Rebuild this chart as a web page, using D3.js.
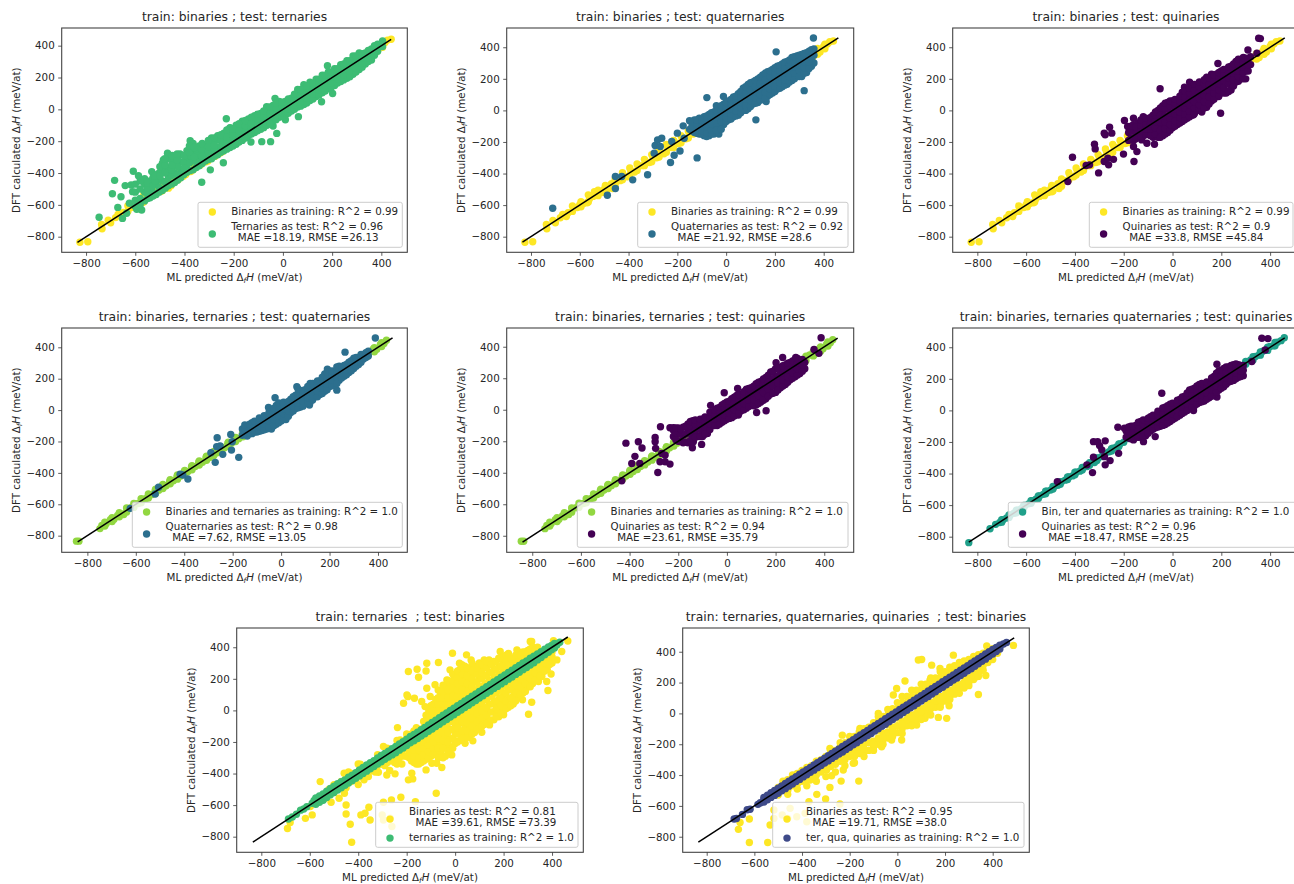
<!DOCTYPE html>
<html><head><meta charset="utf-8">
<style>html,body{margin:0;padding:0;background:#fff;overflow:hidden}svg{display:block}text{font-family:"DejaVu Sans",sans-serif;fill:#262626;white-space:pre}</style>
<script src="https://cdn.jsdelivr.net/npm/d3@7/dist/d3.min.js"></script>
</head><body><svg id="c" width="1294" height="884"></svg>
<script>
const tickValues=[-800,-600,-400,-200,0,200,400];
const colors={yellow:"#fde725",green:"#3dbc74",teal:"#2c6f8e",purple:"#440154",lime:"#92d741",sea:"#20a08a",indigo:"#3e4a89"};

const binariesTrain=[[-825,-835],[-793,-832],[-735,-750],[-737,-723],[-710,-697],[-700,-712],[-680,-680],[-670,-660],[-655,-672],[-648,-648],[-622,-615],[-610,-615],[-600,-598],[-585,-590],[-570,-585],[-560,-560],[-545,-545],[-540,-515],[-510,-520],[-500,-500],[-490,-510],[-470,-465],[-465,-495],[-450,-450],[-435,-445],[-420,-415],[-405,-420],[-390,-385],[-375,-390],[-360,-355],[-345,-350],[-330,-325],[-315,-330],[-300,-295],[-285,-300],[-270,-265],[-255,-275],[-240,-230],[-225,-235],[-210,-205],[-195,-210],[-180,-175],[-165,-180],[-150,-145],[-135,-150],[-120,-115],[-105,-120],[-90,-85],[-75,-85],[-60,-55],[-45,-50],[-30,-25],[-15,-20],[0,5],[15,5],[30,35],[45,40],[60,65],[80,72],[100,105],[120,112],[140,146],[160,152],[180,186],[200,192],[220,226],[240,232],[260,266],[280,272],[300,306],[320,310],[340,345],[355,335],[370,375],[385,370],[400,405],[415,420],[425,435],[440,440]];
const binariesTrainEdge=[[-630,-640,-605],[-595,-610,-578],[-565,-580,-535],[-525,-540,-505],[-495,-515,-475],[-455,-480,-435],[-425,-440,-395],[-395,-410,-365],[-365,-380,-340],[-335,-350,-310],[-305,-325,-280],[-275,-295,-245],[-245,-265,-215],[-215,-235,-190],[-185,-205,-160],[-155,-175,-130],[-125,-145,-100],[-95,-115,-70],[280,262,295],[310,295,325],[345,325,360],[375,355,392],[405,390,420]];

const binTerTrain=[[-845,-835],[-835,-835],[-748,-755],[-740,-735],[-722,-722],[-705,-698],[-690,-695],[-675,-672],[-660,-662],[-650,-665],[-635,-628],[-620,-622],[-605,-598],[-590,-595],[-575,-570],[-560,-565],[-548,-542],[-533,-538],[-520,-512],[-505,-510],[-490,-480],[-475,-482],[-460,-455],[-445,-450],[-430,-425],[-415,-420],[-400,-392],[-385,-392],[-370,-362],[-355,-360],[-340,-332],[-325,-332],[-310,-302],[-295,-302],[-280,-272],[-265,-272],[-250,-242],[-235,-242],[-220,-212],[-205,-212],[-190,-182],[-175,-182],[-160,-152],[-145,-152],[-130,-122],[-115,-122],[-100,-92],[-80,-88],[-60,-52],[-40,-48],[-20,-12],[0,-8],[20,28],[40,32],[60,68],[80,72],[100,108],[120,112],[140,148],[160,152],[180,188],[200,192],[220,228],[240,232],[260,268],[280,272],[300,308],[320,312],[340,348],[360,352],[380,388],[395,388],[410,418],[425,425],[435,445]];
const binTerTrainEdge=[[-728,-738,-714],[-698,-710,-686],[-668,-680,-654],[-638,-650,-624],[-608,-620,-594],[-578,-590,-564],[-548,-560,-534],[-518,-530,-504],[-488,-500,-474],[-458,-470,-444],[-428,-440,-414],[-398,-410,-384],[-368,-380,-354],[-338,-350,-324],[-308,-320,-294],[-278,-290,-264],[-248,-260,-234],[-218,-230,-204],[-188,-200,-174],[-158,-170,-144],[265,252,280],[295,282,310],[325,312,340],[355,342,368],[385,372,398],[415,405,430]];

const allButQuinTrain=[[-835,-838],[-748,-750],[-725,-722],[-708,-710],[-695,-692],[-680,-682],[-665,-662],[-650,-652],[-635,-632],[-620,-622],[-605,-602],[-590,-592],[-575,-572],[-560,-562],[-545,-542],[-530,-532],[-515,-512],[-500,-505],[-485,-482],[-470,-475],[-455,-452],[-440,-442],[-425,-422],[-410,-415],[-395,-392],[-380,-385],[-365,-362],[-350,-355],[-335,-332],[-320,-330],[-305,-302],[-290,-292],[-275,-272],[-260,-262],[-245,-240],[-230,-232],[-215,-212],[-200,-202],[-180,-178],[-160,-160],[-140,-138],[-120,-120],[-100,-98],[-80,-80],[-60,-58],[-40,-40],[-20,-18],[0,0],[20,22],[40,40],[60,62],[80,80],[100,102],[120,120],[140,142],[160,160],[180,182],[200,200],[220,222],[240,240],[260,262],[280,280],[300,302],[320,320],[340,342],[355,352],[370,375],[385,382],[400,405],[415,410],[430,432],[445,442],[458,460]];
const allButQuinEdge=[[-700,-708,-692],[-670,-678,-662],[-640,-648,-632],[-610,-618,-602],[-580,-588,-572],[-550,-558,-542],[-520,-528,-512],[-490,-498,-482],[-460,-468,-452],[-430,-438,-422],[-400,-408,-392],[-370,-378,-362],[-340,-348,-332],[-310,-318,-302],[-280,-288,-272],[-250,-258,-242],[-220,-228,-212],[300,292,310],[330,320,340],[360,350,370],[390,380,400],[420,410,430]];

const ternariesTrain=[[-688,-688],[-672,-675],[-655,-658],[-638,-632],[-625,-625],[-612,-610],[-590,-588],[-582,-570],[-570,-572],[-555,-550],[-540,-545],[-525,-520],[-510,-515],[-495,-490],[-480,-490],[-465,-462],[-450,-455],[-435,-430],[-420,-428],[-405,-405],[-390,-388],[-375,-380],[-360,-360],[-345,-340],[-330,-335],[-315,-312],[-300,-308],[-285,-282],[-270,-275],[-255,-252],[-240,-245],[-225,-222],[-210,-215],[-195,-192],[-180,-185],[-165,-162],[-150,-155],[-135,-132],[-120,-125],[-105,-102],[-90,-95],[-75,-72],[-60,-65],[-45,-42],[-30,-35],[-15,-12],[0,-5],[15,18],[30,25],[45,48],[60,55],[75,78],[90,85],[105,108],[120,115],[135,138],[150,145],[165,168],[180,175],[195,198],[210,205],[225,228],[240,235],[255,258],[270,265],[285,288],[300,295],[315,318],[330,325],[345,348],[360,355],[375,378],[390,385],[405,408],[420,415],[432,432]];
const ternariesTrainEdge=[[-575,-595,-555],[-545,-570,-530],[-515,-535,-495],[-485,-505,-465],[-455,-475,-440],[-425,-445,-410],[-395,-415,-378],[-365,-385,-345],[-335,-355,-318],[-305,-325,-285],[-275,-295,-258],[-245,-268,-228],[-215,-238,-198],[-185,-205,-165],[-155,-178,-138],[-125,-148,-108],[-95,-118,-76],[-65,-88,-46],[-35,-58,-16],[-5,-28,14],[25,2,44],[55,32,74],[85,62,104],[115,92,134],[145,122,164],[175,152,194],[205,182,224],[235,212,254],[265,242,284],[295,272,314],[325,302,344],[355,335,372],[385,368,402],[410,396,424],
[-560,-582,-542],[-530,-552,-512],[-500,-520,-480],[-470,-490,-452],[-440,-460,-424],[-410,-430,-394],[-380,-400,-362],[-350,-370,-332],[-320,-340,-302],[-290,-310,-272],[-260,-282,-242],[-230,-252,-212],[-200,-222,-182],[-170,-192,-152],[-140,-162,-122],[-110,-132,-92],[-80,-102,-62],[-50,-72,-30],[-20,-42,0],[10,-12,30],[40,18,60],[70,48,90],[100,78,120],[130,108,150],[160,138,180],[190,168,210],[220,198,240],[250,228,270],[280,258,300],[310,288,330],[340,320,358],[370,352,388],[398,384,412]];

const terQuaQuinTrain=[[-685,-685],[-675,-682],[-650,-655],[-630,-625],[-618,-622],[-585,-590],[-575,-580],[-560,-558],[-545,-548],[-530,-528],[-515,-518],[-500,-498],[-485,-488],[-470,-468],[-455,-458],[-440,-438],[-425,-428],[-410,-408],[-395,-398],[-380,-378],[-365,-368],[-350,-348],[-335,-338],[-320,-318],[-305,-308],[-290,-288],[-275,-278],[-260,-258],[-245,-248],[-230,-228],[-215,-218],[-200,-198],[-185,-188],[-170,-168],[-155,-158],[-140,-138],[-125,-128],[-110,-108],[-95,-98],[-80,-78],[-65,-68],[-50,-48],[-35,-38],[-20,-18],[-5,-8],[10,12],[25,22],[40,42],[55,52],[70,72],[85,82],[100,102],[115,112],[130,132],[145,142],[160,162],[175,172],[190,192],[205,202],[220,222],[235,232],[250,252],[265,262],[280,282],[295,292],[310,312],[325,322],[340,342],[355,352],[370,372],[385,382],[400,402],[415,412],[430,432],[445,450],[458,460]];
const terQuaQuinTrainEdge=[[-560,-575,-545],[-530,-545,-515],[-500,-518,-485],[-470,-488,-455],[-440,-458,-425],[-410,-428,-395],[-380,-398,-365],[-350,-368,-335],[-320,-338,-305],[-290,-308,-275],[-260,-278,-245],[-230,-250,-215],[-200,-220,-185],[-170,-190,-155],[-140,-160,-125],[-110,-130,-95],[-80,-100,-65],[-50,-70,-35],[-20,-40,-5],[10,-10,25],[40,20,55],[70,50,85],[100,80,115],[130,110,145],[160,140,175],[190,170,205],[220,200,235],[250,230,265],[280,260,295],[310,290,325],[340,322,355],[370,352,385],[400,385,415],[430,418,442],
[-545,-560,-530],[-515,-532,-500],[-485,-502,-470],[-455,-472,-440],[-425,-442,-410],[-395,-412,-380],[-365,-382,-350],[-335,-352,-320],[-305,-322,-290],[-275,-292,-260],[-245,-264,-230],[-215,-234,-200],[-185,-204,-170],[-155,-174,-140],[-125,-144,-110],[-95,-114,-80],[-65,-84,-50],[-35,-54,-20],[-5,-24,10],[25,6,40],[55,36,70],[85,66,100],[115,96,130],[145,126,160],[175,156,190],[205,186,220],[235,216,250],[265,246,280],[295,276,310],[325,306,340],[355,338,370],[385,370,400],[415,402,428]];

const ternTestOut=[[-747,-678],[-693,-530],[-684,-446],[-641,-479],[-608,-389],[-587,-417],[-617,-475],[-611,-517],[-658,-549],[-671,-616],[-652,-685],[-635,-653],[-624,-590],[-594,-628],[-574,-632],[-533,-391],[-513,-444],[-469,-276],[-486,-318],[-418,-280],[-459,-402],[-377,-197],[-330,-458],[-350,-255],[-242,-335],[-230,-59],[-215,-119],[-86,-203],[-50,-203],[-32,69],[-66,17],[-25,-151],[63,-46],[157,48],[181,274],[202,100],[-295,-380],[-130,-205]];
const ternTestCols=[[-562,-575,-520,-470,-435],[-540,-555,-500,-450],[-515,-535,-470,-410],[-490,-510,-450,-380,-340],[-465,-480,-430,-370,-310],[-440,-460,-400,-340,-300],[-415,-430,-380,-330],[-390,-395,-350,-310,-260],[-365,-380,-320,-270,-215],[-340,-355,-310,-260,-230],[-315,-325,-280,-230],[-290,-310,-260,-210,-180],[-265,-285,-240,-190,-165],[-240,-260,-215,-170,-150],[-215,-240,-195,-150,-115],[-190,-220,-175,-130,-100],[-165,-195,-150,-110,-75],[-140,-165,-125,-85,-60],[-115,-145,-105,-65,-40],[-90,-125,-85,-45,-25],[-65,-100,-60,-20,10],[-40,-105,-70,-35,0,25],[-15,-50,-15,25,50],[10,-65,-35,10,50],[35,-10,30,70],[60,15,55,95,125],[85,30,75,120,155],[110,55,100,145,170],[135,80,125,170,190],[160,105,145,190,215],[185,130,170,215,235],[210,150,195,240,255],[235,175,220,260,280],[260,195,240,285,305],[285,220,265,310,335],[310,250,290,335,355],[335,285,320,355],[360,310,345,380],[385,365,395,410],[405,395,430],
[-550,-560,-530,-495,-465],[-528,-545,-520,-480,-430],[-503,-520,-490,-430,-400],[-478,-495,-460,-400,-350],[-452,-470,-415,-380,-320],[-428,-445,-410,-360,-310],[-402,-410,-370,-335,-290],[-378,-385,-335,-290,-240],[-352,-365,-330,-285,-250],[-328,-340,-295,-250,-215],[-303,-315,-270,-235,-195],[-278,-295,-250,-225,-180],[-252,-270,-230,-190,-160],[-228,-250,-205,-175,-130],[-203,-230,-190,-160,-125],[-178,-205,-165,-135,-90],[-152,-180,-140,-105,-70],[-128,-155,-115,-90,-50],[-103,-135,-95,-60,-30],[-78,-115,-75,-40,-10],[-52,-90,-50,-25,15],[-28,-65,-35,5,40],[-3,-45,-20,20,45],[22,-25,5,35,65],[47,0,25,60,95],[72,20,45,85,125],[97,40,70,110,145],[122,65,95,130,165],[147,90,120,155,190],[172,115,150,185,215],[197,140,165,205,235],[222,165,190,225,255],[247,185,215,250,285],[272,205,240,275,305],[297,235,260,300,335],[322,265,290,325,350],[347,300,325,355,370],[372,340,365,385,400],
[-600,-610,-570,-520,-470],[-580,-600,-560,-500,-450],[-520,-450,-420],[-500,-420,-360],[-480,-350,-310],[-450,-350,-290],[-430,-320,-280],[-400,-370,-290],[-380,-270,-230],[-360,-300,-240]];

const quatTestOut=[[-711,-620],[-487,-538],[-454,-495],[-454,-419],[-428,-419],[-383,-440],[-322,-408],[-295,-271],[-291,-222],[-281,-187],[-264,-176],[-270,-229],[-228,-330],[-213,-284],[-189,-257],[-119,-301],[-223,-197],[-200,-144],[-176,-98],[-172,-176],[-79,81],[-11,88],[122,-60],[164,56],[205,371],[320,125],[358,459]];
const quatTestCols=[[-150,-120,-65],[-130,-140,-90,-60],[-110,-150,-110,-70,-50],[-90,-160,-125,-85,-40],[-70,-160,-110,-60,-25],[-50,-150,-100,-50,-10],[-30,-150,-100,-60,-20,20],[-10,-90,-40,10,40],[10,-60,-20,30,60],[30,-40,10,55,85],[50,-30,30,75,105],[70,0,50,100,140],[90,10,70,125,165],[110,40,90,140,180],[130,50,110,160,200],[150,80,130,180,225],[170,90,150,205,245],[190,110,165,220,260],[210,135,185,240,280],[230,150,205,255,295],[250,165,225,275,310],[270,190,240,295,335],[290,215,265,310,345],[310,215,280,325,355],[330,240,295,340,365],[350,280,320,360,385],[360,300,350,390],
[-140,-130,-100,-75],[-120,-145,-125,-90,-60],[-100,-150,-130,-100,-60],[-80,-165,-140,-105,-65,-35],[-60,-150,-125,-85,-45,-15],[-40,-125,-80,-40,0,30],[-20,-120,-70,-30,0,30],[0,-70,-45,-15,15,50],[20,-55,-20,10,45,70],[40,-35,-5,30,65,90],[60,-15,15,50,85,120],[80,0,30,70,110,150],[100,25,60,95,130,175],[120,45,80,115,150,190],[140,65,100,135,170,210],[160,80,115,155,195,235],[180,100,135,175,215,250],[200,120,155,195,235,270],[220,140,175,215,250,285],[240,160,195,235,270,305],[260,180,215,255,290,320],[280,200,235,275,310,340],[300,215,255,290,325,350],[320,235,270,310,345,360],[340,265,305,340,375]];

const quinTestOut=[[-410,-297],[-429,-451],[-303,-396],[-340,-345],[-354,-349],[-320,-214],[-317,-244],[-280,-144],[-258,-107],[-276,-155],[-249,-144],[-280,-324],[-262,-345],[-265,-303],[-242,-310],[-201,-277],[-158,-324],[-146,-261],[-160,-229],[-74,-214],[-105,-208],[-126,-187],[-197,-64],[-160,-50],[-184,-102],[-51,137],[49,147],[70,178],[86,-28],[197,-18],[189,88],[186,297],[309,383],[353,457],[360,455],[346,362]];
const quinTestCols=[[-180,-190,-140],[-160,-190,-130,-90],[-140,-170,-120,-80],[-120,-160,-110,-70,-40],[-100,-150,-100,-60],[-80,-170,-130,-80,-30],[-60,-170,-150,-100,-50,0],[-40,-160,-110,-60,-10,30],[-20,-140,-90,-40,10,50],[0,-110,-60,-20,30,60],[20,-90,-40,10,60],[40,-70,-20,30,80,115],[60,-50,0,50,100,130],[80,-30,20,70,120],[100,0,50,100,150],[120,-10,40,90,140,165],[140,20,70,120,170,210],[160,60,110,150,190,230],[180,90,140,185,230],[200,120,160,205,250],[220,110,170,220,260],[240,130,190,240,280],[260,180,220,270,310],[280,200,240,285,320],[300,200,250,300,330],[320,290,340],
[-170,-175,-130,-100],[-150,-180,-145,-105],[-130,-165,-130,-95,-60],[-110,-155,-120,-85,-50],[-90,-160,-120,-85,-45],[-70,-150,-110,-70,-30,-10],[-50,-170,-125,-75,-30,15],[-30,-150,-115,-75,-35,15,45],[-10,-125,-90,-50,-15,30,60],[10,-100,-65,-25,10,45,70],[30,-80,-45,-10,25,60,90],[50,-60,-25,15,50,85,125],[70,-40,-5,35,70,110,140],[90,-20,15,55,90,130,165],[110,5,35,75,115,150,180],[130,15,55,95,130,170,195],[150,40,85,130,165,205],[170,70,110,150,190,225],[190,95,130,170,210,240],[210,110,145,190,225,260],[230,120,165,205,240,275],[250,155,195,235,265,295],[270,185,215,250,290,325],[290,200,240,275,305,335],[310,250,290,325]];

const quatTest2Out=[[-623,-626],[-520,-535],[-506,-492],[-417,-408],[-385,-439],[-406,-414],[-290,-272],[-272,-333],[-264,-176],[-266,-233],[-252,-229],[-241,-282],[-208,-155],[-205,-255],[-202,-202],[-175,-301],[230,127],[264,369],[389,459],[-25,79],[-52,17],[65,149],[117,32],[191,261]];
const quatTest2Cols=[[-160,-160,-120],[-140,-165,-130,-100],[-120,-150,-115,-80],[-100,-140,-100,-75],[-80,-130,-85,-60],[-60,-120,-75,-40],[-40,-120,-60,-25],[-20,-90,-40,-5,30],[0,-70,-30,10,30],[20,-60,-10,35],[40,-15,30,70],[60,10,50,95],[80,20,65,105],[100,40,80,130],[120,50,100,150,170],[140,85,125,170],[160,100,140,185],[180,120,155,200,230],[200,150,185,225],[220,165,200,240],[240,190,225,265,280],[260,215,245,285],[280,240,270,305],[300,265,300,330],[320,290,320],[340,325,345],[360,345,375],
[-150,-150,-120,-95],[-130,-150,-125,-90],[-110,-140,-105,-70],[-90,-135,-105,-75,-50],[-70,-125,-90,-60,-35],[-50,-110,-70,-40,-15],[-30,-100,-60,-25,10],[-10,-80,-40,-10,25,45],[10,-60,-25,5,35,50],[30,-40,-5,25,55],[50,-5,25,60,85],[70,15,45,80,105,135],[90,25,60,95,125],[110,45,80,115,150],[130,65,100,135,170],[150,85,120,155,185],[170,105,140,175,210],[190,130,165,200,240],[210,155,190,225,250],[230,170,210,245,275],[250,205,235,270],[270,225,255,290],[290,250,280,315],[310,280,310,335],[330,305,335,355],[350,335,365]];

const quinTest2Out=[[-415,-212],[-364,-203],[-349,-243],[-378,-296],[-391,-341],[-358,-341],[-432,-451],[-284,-398],[-295,-176],[-295,-203],[-293,-245],[-273,-108],[-234,-114],[-220,-114],[-275,-330],[-254,-330],[-234,-345],[-254,-288],[-268,-277],[-142,-241],[-104,-220],[-138,-203],[-11,108],[-67,28],[44,135],[122,-17],[161,-6],[47,-34],[202,298],[229,332],[283,332],[358,383],[387,457],[378,358],[296,252]];
const quinTest2Cols=[[-220,-170,-130],[-200,-200,-150,-115],[-180,-210,-160,-110],[-160,-210,-130,-90],[-140,-180,-140,-100,-70],[-120,-170,-120,-80],[-100,-170,-130,-90,-60],[-80,-150,-110,-60],[-60,-100,-70,-30],[-40,-100,-60,-20,10],[-20,-80,-40,0,30],[0,-60,-20,20,50],[20,-50,-10,30,70],[40,-30,10,50,90],[60,-5,30,75,100],[80,10,50,90,130],[100,30,70,110,140],[120,30,80,120,165],[140,50,100,145,180],[160,70,120,165,205],[180,100,145,190,240],[200,110,160,210,260],[220,140,180,225,270],[240,160,200,245,285],[260,190,220,270,300],[280,210,250,290,320],[300,230,270,310],[320,260,300],
[-210,-190,-145,-115],[-190,-200,-155,-120],[-170,-205,-155,-105],[-150,-195,-150,-100,-75],[-130,-175,-130,-90,-65],[-110,-170,-125,-90,-60],[-90,-155,-110,-75,-45],[-70,-125,-90,-50,-15],[-50,-100,-60,-30,0],[-30,-90,-50,-15,15],[-10,-70,-30,10,40],[10,-55,-20,20,55],[30,-40,0,40,80],[50,-20,20,60,95],[70,0,40,80,115],[90,20,60,100,135],[110,25,65,105,150],[130,40,90,130,175],[150,60,110,155,195],[170,85,130,175,220],[190,105,150,195,245],[210,125,170,215,265],[230,150,190,235,280],[250,175,210,255,295],[270,200,235,280,310],[290,220,260,300,325],[310,245,285,320]];

const quinTest3Out=[[-472,-451],[-328,-394],[-324,-297],[-351,-345],[-276,-345],[-256,-318],[-279,-293],[-221,-272],[-324,-198],[-299,-223],[-307,-198],[-276,-193],[-290,-250],[-224,-107],[-197,-113],[-71,-166],[-160,-187],[-119,-198],[-44,109],[86,-1],[182,85],[182,292],[366,457],[391,455],[380,383],[325,310]];
const quinTest3Cols=[[-190,-170,-130],[-170,-180,-140,-100],[-150,-170,-130,-95],[-130,-170,-130,-90,-70],[-110,-160,-120,-80],[-90,-130,-90,-60,-40],[-70,-110,-80,-40],[-50,-100,-60,-20],[-30,-90,-50,-10,20],[-10,-70,-30,10,40],[10,-50,-10,30],[30,-30,10,50,70],[50,-10,30,70,90],[70,10,50,90,130],[90,30,70,110,140],[110,50,90,130,165],[130,60,100,150],[150,80,120,165],[170,100,140,185,215],[190,130,165,210,250],[210,150,190,230,265],[230,180,215,255,275],[250,190,230,270,290],[270,210,240,280,290],[290,220,255,285],
[-180,-175,-130,-105],[-160,-175,-135,-100],[-140,-170,-130,-95,-75],[-120,-165,-125,-85,-60],[-100,-145,-105,-70,-50],[-80,-120,-85,-50,-30],[-60,-105,-70,-30,-5],[-40,-95,-55,-15,15],[-20,-80,-40,0,30],[0,-60,-20,20,45],[20,-40,0,40,65],[40,-20,20,60,85],[60,0,40,80,110],[80,20,60,100,135],[100,40,80,120,155],[120,55,95,135,170],[140,70,110,150,180],[160,90,130,175,205],[180,115,155,200,235],[200,140,180,220,255],[220,165,205,245,275],[240,185,225,260,285],[260,200,235,275,295],[280,215,250,285]];

const binTest2Out=[[-692,-748],[-681,-711],[-618,-684],[-590,-662],[-598,-609],[-557,-451],[-512,-582],[-479,-557],[-457,-525],[-450,-599],[-450,-656],[-433,-721],[-427,-835],[-389,-662],[-372,-652],[-356,-614],[-351,-694],[-301,-662],[-296,-694],[-261,-736],[-268,-683],[-263,-567],[-296,-582],[-224,-550],[-164,-578],[-78,-525],[-458,-398],[-392,-341],[-376,-440],[-358,-419],[-317,-392],[-282,-409],[-248,-402],[-193,-440],[-175,-434],[-179,-398],[-120,-377],[-76,-335],[-55,-362],[-96,-335],[-131,-314],[-158,-292],[-296,-229],[-238,-109],[-227,-187],[-213,45],[-199,98],[-195,87],[-168,77],[-138,56],[-151,210],[-193,246],[-157,261],[-117,299],[-120,250],[-69,303],[-11,362],[18,299],[28,289],[47,352],[66,320],[-117,140],[-83,162],[-124,24],[-103,88],[-21,257],[-34,193],[303,-24],[278,67],[316,52],[296,147],[383,126],[344,183],[378,183],[358,214],[396,231],[392,299],[420,320],[440,373],[465,440],[310,436],[316,436],[406,442],[200,-28],[179,-28],[142,-92],[110,-138],[73,-193],[41,-208],[7,-197],[-14,-282],[-28,-261],[186,373],[255,383],[282,352],[-540,-560],[-500,-520],[-450,-490],[-430,-450],[-400,-470],[-380,-420],[-360,-400],[-340,-380],[-320,-350],[-300,-340],[-280,-330],[-260,-300],[-240,-280],[-220,-260],[-240,-340],[-270,-380],[-220,-340],[-500,-470],[-440,-390],[-400,-340],[-320,-280],[-280,-240],[-240,-190],[-200,-150],[-160,-110]];
const binTest2Cols=[[-200,-290,-240,-180],[-180,-320,-260,-200,-150],[-160,-340,-280,-220,-170],[-140,-330,-270,-210,-140],[-120,-310,-250,-190,-130,-60,-30],[-100,-290,-230,-170,-110,-60,-10,30],[-80,-270,-210,-150,-90,-30,20,70],[-60,-270,-210,-150,-100,-40,10,60,110],[-40,-290,-230,-170,-110,-50,10,60,110,150],[-20,-230,-180,-120,-60,20,70,120,170],[0,-210,-150,-90,-40,50,100,150,190,230],[20,-190,-140,-80,-30,70,120,170,220,260],[40,-170,-110,-50,0,90,140,190,240,280],[60,-170,-110,-60,-10,110,160,210,260],[80,-140,-80,-30,20,130,180,230,280],[100,-110,-60,-10,40,150,200,250,300],[120,-90,-40,10,70,160,220,270,320],[140,-60,-10,40,90,190,240,290,320],[160,-60,-10,50,110,210,260,310],[180,-40,20,70,130,230,280,330],[200,0,50,100,160,250,300,340],[220,20,70,130,180,270,320,360],[240,40,90,150,200,290,330],[260,90,130,180,220,310,350,370],[280,110,160,210,250,330,370],[300,150,190,240,280,350,380],[320,170,220,270,300,370,400],[340,210,250,290,320,400],[360,240,280,320,350],[380,260,310,350],[400,300,340,370],
[-190,-300,-270,-230,-190,-160],[-170,-330,-290,-250,-210,-170,-130],[-150,-340,-300,-250,-200,-160,-120],[-130,-320,-280,-240,-200,-160,-110,-70],[-110,-300,-260,-220,-180,-140,-100,-60,-20,10],[-90,-280,-240,-200,-160,-120,-80,-40,0,40],[-70,-300,-240,-180,-130,-80,-40,0,40,80,130],[-50,-300,-240,-190,-140,-90,-40,0,40,80,120,160],[-30,-260,-200,-140,-80,-30,30,80,130,190],[-10,-240,-180,-120,-70,-20,40,90,140,190,230],[10,-200,-150,-110,-60,-10,40,90,130,170,210,250],[30,-180,-130,-70,-20,30,80,130,180,230,270],[50,-170,-130,-80,-30,20,70,120,170,220,270],[70,-150,-100,-50,0,50,100,150,200,250,300],[90,-120,-70,-20,30,80,130,180,230,270],[110,-100,-50,0,50,100,150,200,240,290],[130,-80,-30,20,70,120,170,220,270,310],[150,-60,-10,40,90,140,190,240,290],[170,-40,10,60,110,160,210,260,310],[190,-20,30,80,130,180,230,280,330],[210,10,60,110,160,210,260,310,350],[230,30,80,130,180,230,280,330],[250,60,110,160,210,250,300,350],[270,100,150,200,250,300,350],[290,120,170,220,270,320,370],[310,150,200,250,300,350,390],[330,190,240,280,330,380],[350,220,270,320,360],[370,250,300,340],[390,290,340,380],[-210,-290,-240,-200],[-230,-300,-260,-220],[-250,-330,-290,-250],[-270,-320,-280],[-290,-350,-310],[-310,-340,-310],[-330,-390,-340],[-350,-380,-350],[-370,-400,-370],[-390,-420,-390],[-410,-440,-410],[-430,-430,-400],[-470,-480,-450],[-520,-530,-500]];

const binTest3Out=[[-667,-752],[-660,-707],[-621,-685],[-621,-837],[-544,-837],[-534,-724],[-518,-681],[-518,-627],[-483,-659],[-460,-681],[-422,-670],[-450,-616],[-380,-703],[-387,-648],[-371,-573],[-301,-555],[-338,-525],[-241,-588],[-283,-480],[-236,-439],[-162,-439],[-276,-404],[340,123],[332,238],[371,246],[281,177],[207,-32],[172,-26],[217,50],[172,60],[116,-32],[81,-76],[18,-173],[-24,-173],[-66,-216],[-59,-141],[-143,-259],[-185,-324],[-227,-367],[-297,-367],[-366,-432],[-283,-227],[-231,-141],[-157,-97],[-80,0],[-17,119],[-3,162],[32,210],[88,346],[102,350],[144,313],[137,216],[235,378],[375,437],[487,441],[179,292]];
const binTest3Cols=[[-500,-530,-480],[-460,-500,-430],[-420,-460,-390],[-380,-430,-350],[-340,-400,-310],[-300,-360,-280],[-260,-330,-240],[-220,-300,-190],[-180,-280,-240,-150],[-140,-250,-200,-100],[-100,-220,-180,-60],[-60,-170,-130,-20],[-20,-130,-90,30],[20,-100,-50,70,110],[60,-50,-10,110,150],[100,-10,30,150,190],[140,30,70,190,230],[180,60,110,230,270],[220,110,150,270,300],[260,160,190,310,330],[300,200,230,350],[340,280,380],[380,330,410],[420,390],
[-480,-500,-470,-440],[-440,-470,-440,-400],[-400,-440,-410,-370],[-360,-410,-380,-340],[-320,-380,-350,-300],[-280,-345,-310,-260,-240],[-240,-310,-280,-220,-190],[-200,-280,-240,-190,-150],[-160,-260,-215,-170,-120],[-120,-240,-190,-140,-90],[-80,-200,-160,-110,-50,-20],[-40,-160,-120,-70,-10,25],[0,-125,-80,-30,30,70],[40,-80,-40,0,70,110],[80,-40,0,40,110,150],[120,0,40,80,150,190],[160,40,80,120,190,230],[200,80,120,160,230,270],[240,125,160,200,270,310],[280,165,200,240,310,340],[320,220,250,280,350,370],[360,280,310,345,390],[400,350,380,420],[-460,-525,-490],[-420,-490,-420],[-380,-470,-400],[-340,-440,-370],[-300,-410,-340],[-260,-380,-290],[-220,-340,-260],[-180,-320,-210],[-140,-280,-230],[-100,-240,-200],[-60,-200,-160],[-20,-150,-110],[20,-130,-70],[60,-80,-30],[100,-40,10],[140,-10,50],[180,40,90],[220,90,130],[260,130,170],[300,180,210],[340,240,260]];

const expand=(points,columns)=>points.concat(columns.flatMap(([x,...ys])=>ys.map(y=>[x,y])));

const panels=[
 {title:"train: binaries ; test: ternaries",box:[61.7,28,345.6,224.3],xd:[-899,505.5],yd:[-898,511],line:[-835,440],train:expand(binariesTrain,binariesTrainEdge),trainColor:colors.yellow,test:expand(ternTestOut,ternTestCols),testColor:colors.green,order:"train",
  legend:{x0:198,x1:402.3,y0:202.3,first:{c:colors.yellow,lines:["Binaries as training: R^2 = 0.99"]},second:{c:colors.green,lines:["Ternaries as test: R^2 = 0.96","  MAE =18.19, RMSE =26.13"]}}},
 {title:"train: binaries ; test: quaternaries",box:[506.7,28,347,224.3],xd:[-899.6,523],yd:[-899,522],line:[-835,460],train:expand(binariesTrain,binariesTrainEdge),trainColor:colors.yellow,test:expand(quatTestOut,quatTestCols),testColor:colors.teal,order:"train",
  legend:{x0:637.7,x1:848,y0:202.3,first:{c:colors.yellow,lines:["Binaries as training: R^2 = 0.99"]},second:{c:colors.teal,lines:["Quaternaries as test: R^2 = 0.92","  MAE =21.92, RMSE =28.6"]}}},
 {title:"train: binaries ; test: quinaries",box:[952.7,28,346.7,224.3],xd:[-901,520],yd:[-899,522],line:[-835,460],train:expand(binariesTrain,binariesTrainEdge),trainColor:colors.yellow,test:expand(quinTestOut,quinTestCols),testColor:colors.purple,order:"train",
  legend:{x0:1089.3,x1:1293,y0:202.3,first:{c:colors.yellow,lines:["Binaries as training: R^2 = 0.99"]},second:{c:colors.purple,lines:["Quinaries as test: R^2 = 0.9","  MAE =33.8, RMSE =45.84"]}}},
 {title:"train: binaries, ternaries ; test: quaternaries",box:[61.7,328,345.6,224.3],xd:[-906,521],yd:[-906,523],line:[-840,460],train:expand(binTerTrain,binTerTrainEdge),trainColor:colors.lime,test:expand(quatTest2Out,quatTest2Cols),testColor:colors.teal,order:"train",
  legend:{x0:132.3,x1:402.3,y0:502.3,first:{c:colors.lime,lines:["Binaries and ternaries as training: R^2 = 1.0"]},second:{c:colors.teal,lines:["Quaternaries as test: R^2 = 0.98","  MAE =7.62, RMSE =13.05"]}}},
 {title:"train: binaries, ternaries ; test: quinaries",box:[506.7,328,347,224.3],xd:[-905,521],yd:[-905,519],line:[-840,455],train:expand(binTerTrain,binTerTrainEdge),trainColor:colors.lime,test:expand(quinTest2Out,quinTest2Cols),testColor:colors.purple,order:"train",
  legend:{x0:577.3,x1:848,y0:502.3,first:{c:colors.lime,lines:["Binaries and ternaries as training: R^2 = 1.0"]},second:{c:colors.purple,lines:["Quinaries as test: R^2 = 0.94","  MAE =23.61, RMSE =35.79"]}}},
 {title:"train: binaries, ternaries quaternaries ; test: quinaries",box:[952.7,328,346.7,224.3],xd:[-901,520],yd:[-899,522],line:[-835,460],train:expand(allButQuinTrain,allButQuinEdge),trainColor:colors.sea,test:expand(quinTest3Out,quinTest3Cols),testColor:colors.purple,order:"train",
  legend:{x0:1008.3,x1:1298,y0:502.3,first:{c:colors.sea,lines:["Bin, ter and quaternaries as training: R^2 = 1.0"]},second:{c:colors.purple,lines:["Quinaries as test: R^2 = 0.96","  MAE =18.47, RMSE =28.25"]}}},
 {title:"train: ternaries  ; test: binaries",box:[236.7,628,346.6,224.3],xd:[-901.6,529],yd:[-899,522],line:[-835,465],train:expand(ternariesTrain,ternariesTrainEdge),trainColor:colors.green,test:expand(binTest2Out,binTest2Cols),testColor:colors.yellow,order:"test",
  legend:{x0:375.7,x1:578,y0:802.3,first:{c:colors.yellow,lines:["Binaries as test: R^2 = 0.81","  MAE =39.61, RMSE =73.39"]},second:{c:colors.green,lines:["ternaries as training: R^2 = 1.0"]}}},
 {title:"train: ternaries, quaternaries, quinaries  ; test: binaries",box:[682.7,628,346.6,224.3],xd:[-900.7,553.6],yd:[-901,554],line:[-835,490],train:expand(terQuaQuinTrain,terQuaQuinTrainEdge),trainColor:colors.indigo,test:expand(binTest3Out,binTest3Cols),testColor:colors.yellow,order:"test",
  legend:{x0:772.7,x1:1024,y0:802.3,first:{c:colors.yellow,lines:["Binaries as test: R^2 = 0.95","  MAE =19.71, RMSE =38.0"]},second:{c:colors.indigo,lines:["ter, qua, quinaries as training: R^2 = 1.0"]}}}
];

const svg=d3.select("#c");
const R=3.7;
const FS=10.3;

function mathLabel(t,before){
  t.append("tspan").text(before+"Δ");
  t.append("tspan").attr("font-style","italic").attr("font-size",7.2).attr("dy",2).text("f");
  t.append("tspan").attr("font-style","italic").attr("dy",-2).text("H");
  t.append("tspan").text(" (meV/at)");
}

panels.forEach(p=>{
  const [l,t,w,h]=p.box;
  const x=d3.scaleLinear().domain(p.xd).range([l,l+w]);
  const y=d3.scaleLinear().domain(p.yd).range([t+h,t]);
  const g=svg.append("g");
  const drawSeries=(data,color)=>g.append("g").selectAll("circle").data(data).join("circle")
    .attr("cx",d=>x(d[0])).attr("cy",d=>y(d[1])).attr("r",R).attr("fill",color);
  if(p.order==="train"){drawSeries(p.train,p.trainColor);drawSeries(p.test,p.testColor);}
  else{drawSeries(p.test,p.testColor);drawSeries(p.train,p.trainColor);}
  g.append("line").attr("x1",x(p.line[0])).attr("y1",y(p.line[0])).attr("x2",x(p.line[1])).attr("y2",y(p.line[1])).attr("stroke","#000").attr("stroke-width",1.5);

  const L=p.legend, lg=g.append("g");
  lg.append("rect").attr("x",L.x0).attr("y",L.y0).attr("width",L.x1-L.x0).attr("height",45).attr("rx",2)
    .attr("fill","#fff").attr("fill-opacity",0.8).attr("stroke","#ccc").attr("stroke-width",1);
  const oneFirst=L.first.lines.length===1;
  const firstBase=oneFirst?[12.6]:[12.6,23.6];
  const secondBase=oneFirst?[27.8,38.6]:[38.6];
  const mark=(c,dy)=>lg.append("circle").attr("cx",L.x0+14.3).attr("cy",L.y0+dy).attr("r",R).attr("fill",c);
  const txt=(s,dy)=>lg.append("text").attr("x",L.x0+33.3).attr("y",L.y0+dy).attr("font-size",FS).text(s);
  mark(L.first.c,oneFirst?9.7:16.8); mark(L.second.c,oneFirst?31.7:35.8);
  L.first.lines.forEach((s,i)=>txt(s,firstBase[i]));
  L.second.lines.forEach((s,i)=>txt(s,secondBase[i]));

  g.append("rect").attr("x",l).attr("y",t).attr("width",w).attr("height",h).attr("fill","none").attr("stroke","#444").attr("stroke-width",1.1);
  const ax=g.append("g").attr("transform",`translate(0,${t+h})`).call(d3.axisBottom(x).tickValues(tickValues).tickSize(3.5).tickPadding(3.5));
  const ay=g.append("g").attr("transform",`translate(${l},0)`).call(d3.axisLeft(y).tickValues(tickValues).tickSize(3.5).tickPadding(3.5));
  [ax,ay].forEach(a=>{a.select(".domain").remove();a.selectAll("line").attr("stroke","#333").attr("stroke-width",0.8);
    a.selectAll("text").attr("font-size",FS).style("font-family",'"DejaVu Sans",sans-serif').attr("fill","#262626");});
  g.append("text").attr("x",l+w/2).attr("y",t-7.5).attr("text-anchor","middle").attr("font-size",12.36).text(p.title);
  const xl=g.append("text").attr("x",l+w/2).attr("y",t+h+29).attr("text-anchor","middle").attr("font-size",FS);
  mathLabel(xl,"ML predicted ");
  const yl=g.append("text").attr("transform",`translate(${l-41.5},${t+h/2}) rotate(-90)`).attr("text-anchor","middle").attr("font-size",FS);
  mathLabel(yl,"DFT calculated ");
});
</script></body></html>
